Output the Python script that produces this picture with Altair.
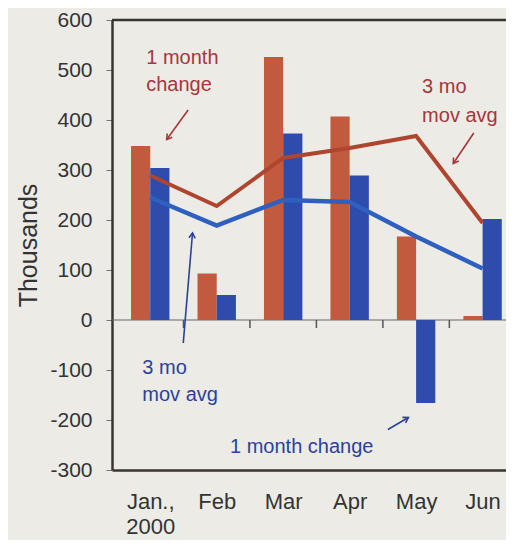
import json
import altair as alt
import pandas as pd

# ---- data (thousands) ----
months = [1, 2, 3, 4, 5, 6]
month_labels = [["Jan.,", "2000"], "Feb", "Mar", "Apr", "May", "Jun"]
change_a = [348, 93, 526, 407, 167, 8]        # red bars, 1 month change
change_b = [304, 50, 373, 289, -166, 202]     # blue bars, 1 month change
avg_a = [289, 228, 324, 344, 368, 194]        # red line, 3 mo mov avg
avg_b = [245, 189, 240, 236, 167, 103]        # blue line, 3 mo mov avg
y_ticks = [-300, -200, -100, 0, 100, 200, 300, 400, 500, 600]

# annotation texts (data units)
ann_text = ["1 month", "change", "3 mo", "mov avg", "3 mo", "mov avg", "1 month change"]
ann_x = [0.94, 0.94, 5.09, 5.09, 0.881, 0.881, 2.20]
ann_y = [513, 459, 455, 397, -108, -161, -265]
ann_grp = ["a", "a", "a", "a", "b", "b", "b"]

# annotation arrows (data units)
arr_x = [1.570, 5.867, 1.497, 4.576]
arr_y = [420, 374, -46, -219]
arr_x2 = [1.248, 5.559, 1.636, 4.884]
arr_y2 = [361, 313, 174, -195]
arr_angle = [216, 214, 5, 60]
arr_grp = ["a", "a", "b", "b"]

RED_BAR = "#c25b3e"
BLUE_BAR = "#2d4cab"
RED_LINE = "#b0452f"
BLUE_LINE = "#2f60bf"
RED_TXT = "#a8353a"
BLUE_TXT = "#2c419c"
DARK = "#3a3531"
FONT = "Liberation Sans"
BG = "#ecebe6"

PLOT_W = 394
PLOT_H = 450
X_DOMAIN = [0.5, 0.5 + PLOT_W / 68.2]
Y_DOMAIN = [-300, 600]

xscale = alt.Scale(domain=X_DOMAIN, nice=False, zero=False)
yscale = alt.Scale(domain=Y_DOMAIN, nice=False, zero=False)

label_expr = json.dumps(month_labels) + "[datum.value - 1]"

x_axis = alt.Axis(values=months, labelExpr=label_expr, ticks=False, grid=False,
                  domain=True, domainColor=DARK, domainWidth=2.5,
                  labelFont=FONT, labelFontSize=22, labelColor="#333333",
                  labelPadding=21, labelLineHeight=25, labelFlush=False,
                  labelOverlap=False, title="")
y_axis = alt.Axis(values=y_ticks, labelExpr="'' + datum.value", grid=False,
                  domain=True, domainColor=DARK,
                  domainWidth=2.5, ticks=True, tickSize=6, tickColor="#777777",
                  tickWidth=1, labelFont=FONT, labelFontSize=21,
                  labelColor="#333333", labelPadding=14, labelFlush=False,
                  labelOverlap=False,
                  title="Thousands", titleFont=FONT, titleFontSize=25,
                  titleFontWeight="normal", titleColor="#333333", titlePadding=8)


def X(field):
    return alt.X(field, scale=xscale, axis=x_axis)


def Y(field):
    return alt.Y(field, scale=yscale, axis=y_axis)


df = pd.DataFrame({"m": months, "ca": change_a, "cb": change_b,
                   "aa": avg_a, "ab": avg_b})

bars_a = alt.Chart(df).mark_bar(size=19.2, xOffset=-9.6, color=RED_BAR, clip=True).encode(
    x=X("m:Q"), y=Y("ca:Q"))
bars_b = alt.Chart(df).mark_bar(size=19.2, xOffset=9.6, color=BLUE_BAR, clip=True).encode(
    x=X("m:Q"), y=Y("cb:Q"))
line_a = alt.Chart(df).mark_line(color=RED_LINE, strokeWidth=4, clip=True).encode(
    x=X("m:Q"), y=Y("aa:Q"), order="m:Q")
line_b = alt.Chart(df).mark_line(color=BLUE_LINE, strokeWidth=4.5, clip=True).encode(
    x=X("m:Q"), y=Y("ab:Q"), order="m:Q")

frame_top = alt.Chart(pd.DataFrame({"v": [Y_DOMAIN[1]]})).mark_rule(
    color=DARK, strokeWidth=2.5).encode(y=Y("v:Q"))
zero_line = alt.Chart(pd.DataFrame({"v": [0]})).mark_rule(
    color="#666666", strokeWidth=1.2).encode(y=Y("v:Q"))

ticks = alt.Chart(pd.DataFrame({"m": months[:-1]})).transform_calculate(
    b="datum.m + 0.5", t0="0", t1="-16"
).mark_rule(color="#555555", strokeWidth=1.5).encode(
    x=X("b:Q"), y=Y("t0:Q"), y2="t1:Q")

color_scale = alt.Scale(domain=["a", "b"], range=[RED_TXT, BLUE_TXT])

ann_df = pd.DataFrame({"t": ann_text, "x": ann_x, "y": ann_y, "g": ann_grp})
ann = alt.Chart(ann_df).mark_text(align="left", baseline="alphabetic", font=FONT,
                                  fontSize=20).encode(
    x=X("x:Q"), y=Y("y:Q"), text="t:N",
    color=alt.Color("g:N", scale=color_scale, legend=None),
)

arr_df = pd.DataFrame({"x": arr_x, "y": arr_y, "x2": arr_x2, "y2": arr_y2,
                       "ang": arr_angle, "g": arr_grp})
arr_lines = alt.Chart(arr_df).mark_rule(strokeWidth=1.6).encode(
    x=X("x:Q"), y=Y("y:Q"), x2="x2:Q", y2="y2:Q",
    color=alt.Color("g:N", scale=color_scale, legend=None),
)
arr_heads = alt.Chart(arr_df).mark_point(
    shape="M -0.55 0.9 L 0 0 L 0.55 0.9", filled=False, strokeWidth=1.6,
    size=130, opacity=1).encode(
    x=X("x2:Q"), y=Y("y2:Q"),
    angle=alt.Angle("ang:Q", scale=None),
    color=alt.Color("g:N", scale=color_scale, legend=None),
)

chart = alt.layer(
    zero_line, ticks, bars_a, bars_b, line_a, line_b, frame_top,
    arr_lines, arr_heads, ann,
).properties(
    width=PLOT_W, height=PLOT_H,
    autosize=alt.AutoSizeParams(type="none"),
    padding={"left": 104, "top": 12, "right": 0, "bottom": 70},
    background=BG,
).configure_view(stroke=None)

chart.save("out.html", embed_options={"renderer": "svg", "actions": False})
